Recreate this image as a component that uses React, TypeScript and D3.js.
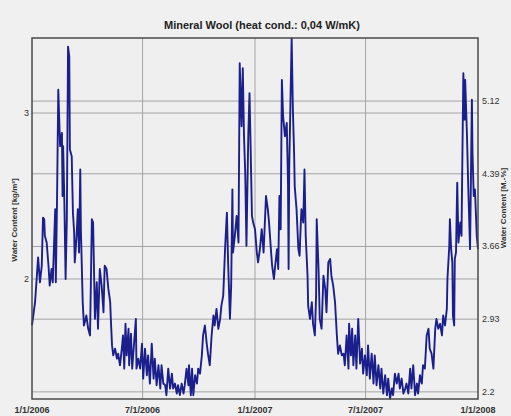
import React from "react";
import * as d3 from "d3";

const dayOffsets = [
  0,5,8,10,13,16,18,20,21,24,27,29,32,34,38,39,41,43,46,49,50,51,53,55,57,59,61,62,65,67,69,70,73,75,77,79,80,83,85,89,92,95,98,100,103,106,108,111,114,117,119,122,125,
  128,129,131,133,136,139,141,144,147,149,151,153,155,158,159,162,164,167,170,171,174,177,180,182,185,188,190,193,196,199,201,204,207,210,212,215,218,220,223,226,229,231,234,237,239,242,
  245,248,250,253,256,257,260,262,264,267,270,272,275,278,280,283,286,288,291,294,297,299,302,305,308,310,313,316,319,321,324,326,328,329,332,335,338,340,343,345,347,349,351,354,356,358,360,362,365,
  368,370,373,376,379,380,383,386,388,391,393,396,398,401,403,405,407,409,411,414,417,419,420,421,423,425,427,429,430,433,436,438,440,441,444,446,448,451,452,455,458,460,463,465,466,469,471,474,477,480,482,485,488,490,493,
  496,499,501,504,507,510,512,515,518,519,522,524,526,529,531,534,537,540,542,545,548,550,553,556,559,561,564,567,570,572,575,578,581,583,586,589,591,594,597,600,602,605,608,
  611,613,616,619,621,624,627,630,632,635,638,640,643,646,649,651,654,657,660,662,665,668,671,673,676,679,680,683,684,686,688,689,691,692,694,696,698,701,703,706,708,709,712,714,717,720,721,723,725,728,730,
];

const waterContent = [
  1.72,1.86,2.02,2.13,1.98,2.08,2.37,2.36,2.26,2.22,2.08,1.96,2.06,1.98,2.42,1.98,2.48,3.14,2.80,2.88,2.50,2.80,2.46,2.00,2.36,3.40,3.34,2.78,2.74,2.40,2.28,2.10,2.26,2.42,2.16,2.66,2.30,1.86,1.72,1.78,1.70,1.66,2.36,2.34,1.76,1.98,1.70,2.06,1.96,1.80,2.08,2.06,1.94,
  1.86,1.76,1.60,1.54,1.58,1.52,1.55,1.48,1.58,1.66,1.46,1.73,1.54,1.70,1.48,1.67,1.46,1.61,1.76,1.46,1.52,1.46,1.61,1.40,1.58,1.42,1.54,1.37,1.61,1.40,1.52,1.36,1.48,1.34,1.48,1.37,1.36,1.30,1.46,1.34,1.43,1.34,1.37,1.31,1.36,1.30,
  1.37,1.31,1.36,1.46,1.36,1.48,1.30,1.46,1.30,1.42,1.37,1.46,1.43,1.54,1.66,1.72,1.61,1.55,1.48,1.66,1.78,1.72,1.82,1.70,1.76,1.84,1.90,2.18,2.40,2.10,1.76,1.96,2.54,2.16,2.26,2.38,2.22,3.30,2.92,3.27,2.86,2.64,2.20,2.86,3.12,2.76,2.38,2.34,2.30,
  2.16,2.10,2.18,2.30,2.16,2.24,2.50,2.42,2.34,2.18,2.08,2.00,2.08,2.18,2.06,2.50,2.30,3.20,2.98,2.86,2.94,2.58,2.06,2.66,3.06,3.45,3.02,2.76,2.56,2.42,2.18,2.14,2.34,2.42,2.34,2.66,2.26,2.02,1.84,1.76,1.86,1.73,1.66,1.90,2.36,2.06,1.76,1.70,2.02,1.94,1.80,2.10,2.12,2.02,1.96,
  1.86,1.66,1.55,1.60,1.54,1.55,1.48,1.66,1.46,1.73,1.54,1.70,1.48,1.66,1.46,1.76,1.49,1.58,1.43,1.54,1.42,1.60,1.40,1.55,1.37,1.54,1.36,1.48,1.34,1.46,1.31,1.42,1.30,1.40,1.28,1.34,1.30,1.43,1.37,1.43,1.34,1.40,1.31,
  1.34,1.37,1.31,1.46,1.34,1.48,1.30,1.37,1.31,1.42,1.37,1.48,1.46,1.66,1.70,1.58,1.55,1.46,1.70,1.76,1.70,1.73,1.66,1.78,1.72,1.82,2.00,2.20,2.36,2.18,2.10,1.78,1.72,2.12,2.16,2.58,2.22,2.34,2.26,3.24,2.96,3.20,2.86,2.56,2.18,3.08,2.76,2.50,2.54,2.26,2.18,
];

const xTickDates = ["2006-01-01", "2006-07-01", "2007-01-01", "2007-07-01", "2008-01-01"];
const xTickLabels = ["1/1/2006", "7/1/2006", "1/1/2007", "7/1/2007", "1/1/2008"];
const leftTicks = [2, 3];
const rightTicks = [2.2, 2.93, 3.66, 4.39, 5.12];
const leftDomain = [1.277, 3.452];
const massPercentFactor = 5 / 3;

const title = "Mineral Wool (heat cond.: 0,04 W/mK)";
const leftLabel = "Water Content [kg/m³]";
const rightLabel = "Water Content [M.-%]";

const W = 511;
const H = 416;
const M = { left: 32, right: 478, top: 38, bottom: 399 };

const parse = (s: string) => {
  const [y, m, d] = s.split("-").map(Number);
  return new Date(y, m - 1, d);
};

export default function App() {
  const base = parse(xTickDates[0]);
  const x = d3
    .scaleTime()
    .domain([parse(xTickDates[0]), parse(xTickDates[xTickDates.length - 1])])
    .range([M.left, M.right]);
  const yL = d3.scaleLinear().domain(leftDomain).range([M.bottom, M.top]);
  const yR = d3
    .scaleLinear()
    .domain(leftDomain.map((v) => v * massPercentFactor))
    .range([M.bottom, M.top]);

  const pts = dayOffsets.map((d, i) => ({ date: d3.timeDay.offset(base, d), v: waterContent[i] }));
  const line = d3
    .line<{ date: Date; v: number }>()
    .x((p) => x(p.date))
    .y((p) => yL(p.v));

  const font = "'Liberation Sans', Arial, sans-serif";
  const grid = "#a4a4a4";

  return (
    <svg
      width={W}
      height={H}
      style={{ position: "absolute", left: 0, top: 0, display: "block" }}
      fontFamily={font}
    >
      <rect x={0} y={0} width={W} height={H} fill="#f0f0f0" />
      <rect x={M.left} y={M.top} width={M.right - M.left} height={M.bottom - M.top} fill="#efefef" />
      {xTickDates.slice(1, -1).map((s) => (
        <line key={s} x1={x(parse(s))} x2={x(parse(s))} y1={M.top} y2={M.bottom} stroke={grid} strokeWidth={1} />
      ))}
      {leftTicks.map((t) => (
        <line key={"l" + t} x1={M.left} x2={M.right} y1={yL(t)} y2={yL(t)} stroke={grid} strokeWidth={1} />
      ))}
      {rightTicks.map((t) => (
        <line key={"r" + t} x1={M.left} x2={M.right} y1={yR(t)} y2={yR(t)} stroke={grid} strokeWidth={1} />
      ))}
      <path d={line(pts) || ""} fill="none" stroke="#1b1f8c" strokeWidth={1.9} strokeLinejoin="round" />
      <rect
        x={M.left}
        y={M.top}
        width={M.right - M.left}
        height={M.bottom - M.top}
        fill="none"
        stroke="#4a4a4a"
        strokeWidth={1.5}
      />
      <text x={262} y={29} textAnchor="middle" fontSize={11} fontWeight="bold" fill="#222">
        {title}
      </text>
      {xTickDates.map((s, i) => (
        <text key={s} x={x(parse(s))} y={413} textAnchor="middle" fontSize={9} fontWeight="bold" fill="#333">
          {xTickLabels[i]}
        </text>
      ))}
      {leftTicks.map((t) => (
        <text key={"lt" + t} x={29} y={yL(t) + 3} textAnchor="end" fontSize={9} fill="#333">
          {t}
        </text>
      ))}
      {rightTicks.map((t) => (
        <text key={"rt" + t} x={482} y={yR(t) + 3} textAnchor="start" fontSize={9} fill="#333">
          {t}
        </text>
      ))}
      <text
        transform={`translate(17,${220}) rotate(-90)`}
        textAnchor="middle"
        fontSize={8}
        fontWeight="bold"
        fill="#333"
      >
        {leftLabel}
      </text>
      <text
        transform={`translate(506,${208}) rotate(-90)`}
        textAnchor="middle"
        fontSize={8}
        fontWeight="bold"
        fill="#333"
      >
        {rightLabel}
      </text>
    </svg>
  );
}
